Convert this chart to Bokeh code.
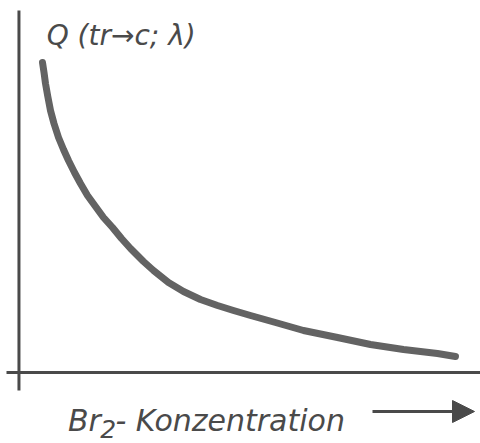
from bokeh.plotting import figure
from bokeh.models import Range1d, Label, Arrow, NormalHead
from bokeh.embed import file_html
from bokeh.resources import INLINE

# Quantum yield Q(tr->c; lambda) versus Br2 concentration (arbitrary units)
br2_conc = [0.510, 0.543, 0.575, 0.625, 0.683, 0.759, 0.857, 0.965, 1.073, 1.203,
            1.333, 1.485, 1.658, 1.832, 2.027, 2.222, 2.417, 2.698, 2.915, 3.240,
            3.565, 3.933, 4.302, 4.648, 5.017, 5.558, 6.165, 6.902, 7.617, 8.332,
            9.068, 9.458]
q_yield = [7.75, 7.50, 7.225, 6.90, 6.55, 6.225, 5.875, 5.575, 5.30, 5.00,
           4.725, 4.425, 4.15, 3.875, 3.625, 3.35, 3.10, 2.775, 2.55, 2.25,
           2.025, 1.825, 1.675, 1.55, 1.425, 1.25, 1.05, 0.875, 0.70, 0.575,
           0.475, 0.40]

y_title = "Q (tr\u2192c; \u03bb)"
x_title_main = "Br"
x_title_sub = "2"
x_title_rest = "- Konzentration"

FONT = "DejaVu Sans"
INK = "#4a4a4a"
CURVE = "#636363"

p = figure(width=480, height=443, output_backend="svg", toolbar_location=None,
           x_range=Range1d(-0.4, 10.0), y_range=Range1d(-1.775, 9.3),
           x_axis_location=None, y_axis_location=None, min_border=0)
p.grid.visible = False
p.outline_line_color = None
p.background_fill_color = "white"

# hand-drawn style axes crossing at the origin
p.segment(x0=[0.0, -0.27], y0=[-0.45, 0.0], x1=[0.0, 10.0], y1=[9.05, 0.0],
          line_color=INK, line_width=3)

# the curve
p.line(br2_conc, q_yield, line_color=CURVE, line_width=7,
       line_cap="round", line_join="round")

style = dict(text_font=FONT, text_font_style="italic", text_color=INK,
             text_baseline="alphabetic")
p.add_layout(Label(x=0.6, y=8.425, text=y_title, text_font_size="28px", **style))
p.add_layout(Label(x=1.06, y=-1.2, text=x_title_main, text_font_size="30px", **style))
p.add_layout(Label(x=1.76, y=-1.4, text=x_title_sub, text_font_size="25px", **style))
p.add_layout(Label(x=2.09, y=-1.2, text=x_title_rest, text_font_size="30px", **style))

p.add_layout(Arrow(x_start=7.66, y_start=-0.975, x_end=9.87, y_end=-0.975,
                   line_color=INK, line_width=3,
                   end=NormalHead(size=22, fill_color=INK, line_color=INK)))

open("out.html", "w").write(file_html(p, INLINE))
